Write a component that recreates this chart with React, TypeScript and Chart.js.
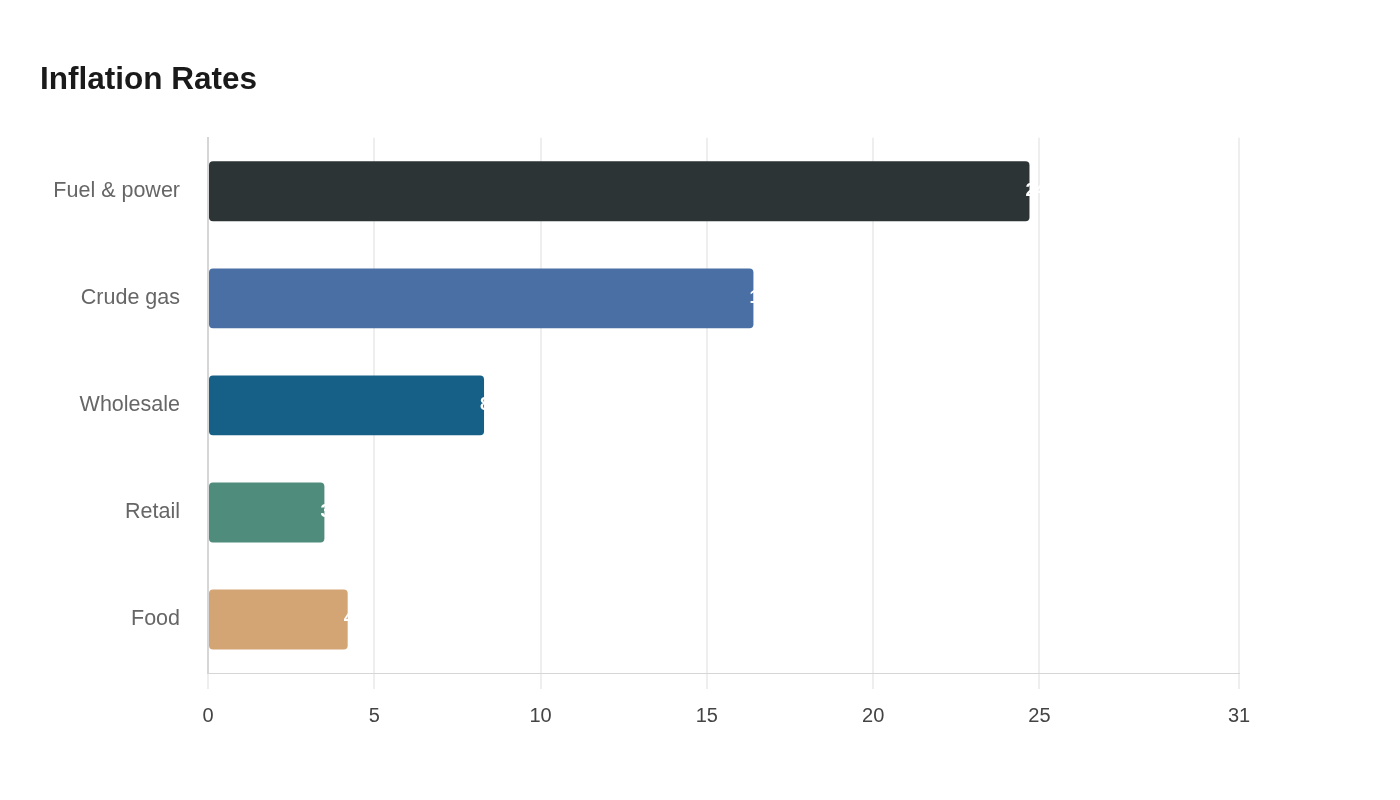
import { useEffect, useRef } from "react"
import { Chart, registerables } from "chart.js"

Chart.register(...registerables)

const categories = ["Fuel & power", "Crude gas", "Wholesale", "Retail", "Food"]
const rates = [24.7, 16.4, 8.3, 3.5, 4.2]
const barColors = ["#2d3436", "#4a6fa5", "#166088", "#4f8c7b", "#d4a574"]

const FONT = "'Liberation Sans', Arial, sans-serif"

// white value labels starting just inside the bar end
const endLabels = {
  id: "endLabels",
  afterDatasetsDraw(chart: Chart) {
    const ctx = chart.ctx
    const meta = chart.getDatasetMeta(0)
    ctx.save()
    ctx.fillStyle = "#ffffff"
    ctx.font = `bold 18px ${FONT}`
    ctx.textAlign = "left"
    ctx.textBaseline = "middle"
    meta.data.forEach((bar: any, i) => {
      ctx.fillText(String(rates[i]), bar.x - 4, bar.y)
    })
    ctx.restore()
  },
}

export default function App() {
  const canvasRef = useRef<HTMLCanvasElement>(null)

  useEffect(() => {
    document.body.style.margin = "0"
    if (!canvasRef.current) return
    const chart = new Chart(canvasRef.current, {
      type: "bar",
      data: {
        labels: categories,
        datasets: [
          {
            data: rates,
            backgroundColor: barColors,
            borderRadius: 4,
            borderSkipped: false,
            categoryPercentage: 0.8,
            barPercentage: 0.7,
          },
        ],
      },
      options: {
        indexAxis: "y",
        animation: false,
        responsive: true,
        maintainAspectRatio: false,
        layout: { padding: { left: 40, top: 61, right: 161, bottom: 57 } },
        plugins: {
          legend: { display: false },
          tooltip: { enabled: false },
          title: {
            display: true,
            text: "Inflation Rates",
            align: "start",
            color: "#1a1a1a",
            font: { family: FONT, size: 31.5, weight: "bold" },
            padding: { top: 0, bottom: 39 },
          },
        },
        scales: {
          x: {
            min: 0,
            max: 31,
            ticks: {
              stepSize: 5,
              color: "#444444",
              padding: 15,
              font: { family: FONT, size: 20 },
            },
            grid: { color: "#eeeeee", lineWidth: 2, tickLength: 16 },
            border: { color: "#d6d6d6", width: 1 },
          },
          y: {
            afterFit: (scale: any) => {
              scale.width = 168
            },
            ticks: {
              color: "#666666",
              padding: 20,
              font: { family: FONT, size: 21.5 },
            },
            grid: { display: false },
            border: { display: true, color: "#d6d6d6", width: 2 },
          },
        },
      },
      plugins: [endLabels],
    })
    return () => chart.destroy()
  }, [])

  return (
    <div style={{ width: 1400, height: 800, background: "#ffffff" }}>
      <canvas ref={canvasRef}></canvas>
    </div>
  )
}
